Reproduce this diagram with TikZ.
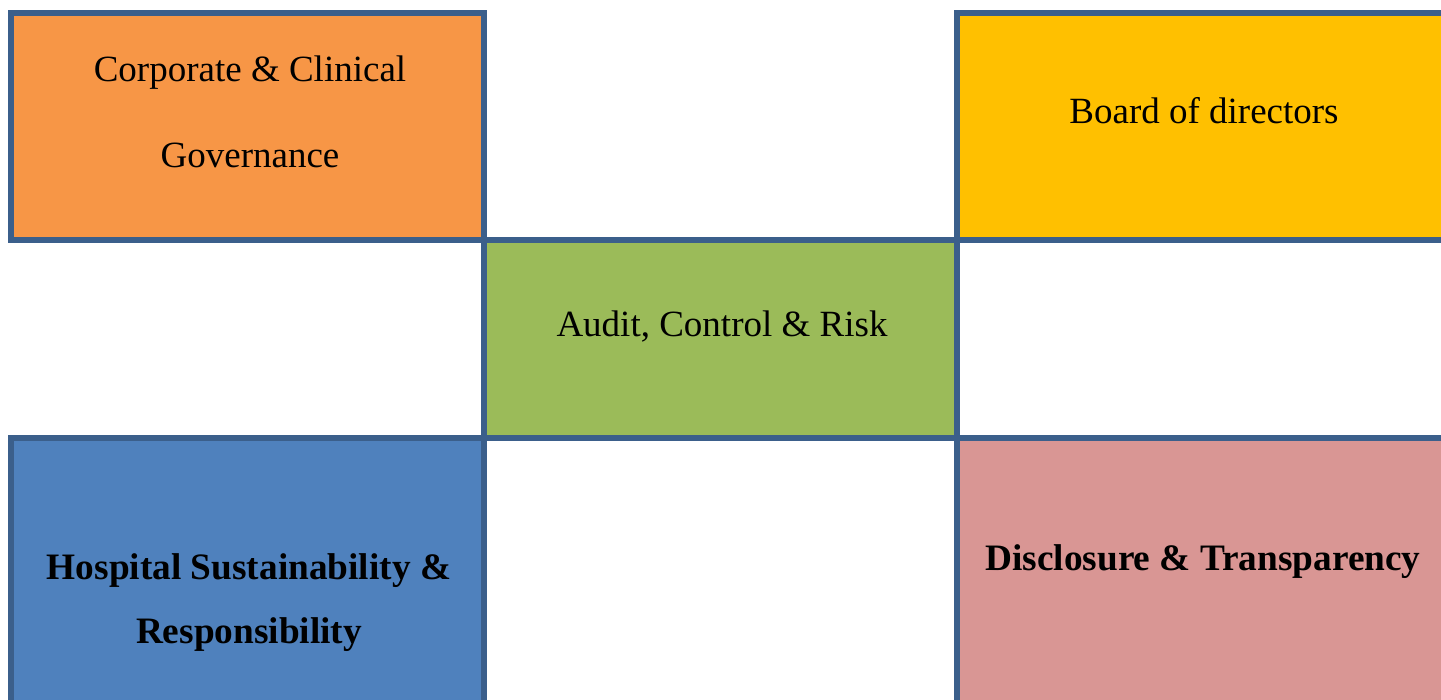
\documentclass[tikz,border=0pt]{standalone}
\usepackage{fontspec}
\setmainfont{Liberation Serif}
\definecolor{bordc}{HTML}{3B5F8B}
\definecolor{orangec}{HTML}{F79646}
\definecolor{yellowc}{HTML}{FFC000}
\definecolor{greenc}{HTML}{9BBB59}
\definecolor{bluec}{HTML}{4F81BD}
\definecolor{pinkc}{HTML}{D99694}
\tikzset{
  cell/.style={draw=bordc, line width=6pt},
  lbl/.style={anchor=base, inner sep=0pt, font=\fontsize{37}{40}\selectfont},
  blbl/.style={lbl, font=\fontsize{37.3}{40}\selectfont\bfseries}
}
\begin{document}
\begin{tikzpicture}[x=1pt,y=-1pt]
\useasboundingbox (0,0) rectangle (1441,700);
\clip (0,0) rectangle (1441,700);
\fill[white] (0,0) rectangle (1441,700);
\draw[cell, fill=orangec] (11,13) rectangle (484,240);
\draw[cell, fill=yellowc] (957,13) rectangle (1460,240);
\draw[cell, fill=greenc] (484,240) rectangle (957,438);
\draw[cell, fill=bluec] (11,438) rectangle (484,720);
\draw[cell, fill=pinkc] (957,438) rectangle (1460,720);
\node[lbl] (cc1) at (250,82) {Corporate \& Clinical};
\node[lbl] (cc2) at (250,168) {Governance};
\node[lbl] (bd) at (1204,124) {Board of directors};
\node[lbl] (acr) at (722,337) {Audit, Control \& Risk};
\node[blbl] (hs1) at (249,579) {Hospital Sustainability \&};
\node[blbl] (hs2) at (249,643) {Responsibility};
\node[blbl] (dt) at (1203,570) {Disclosure \& Transparency};
\end{tikzpicture}
\end{document}
